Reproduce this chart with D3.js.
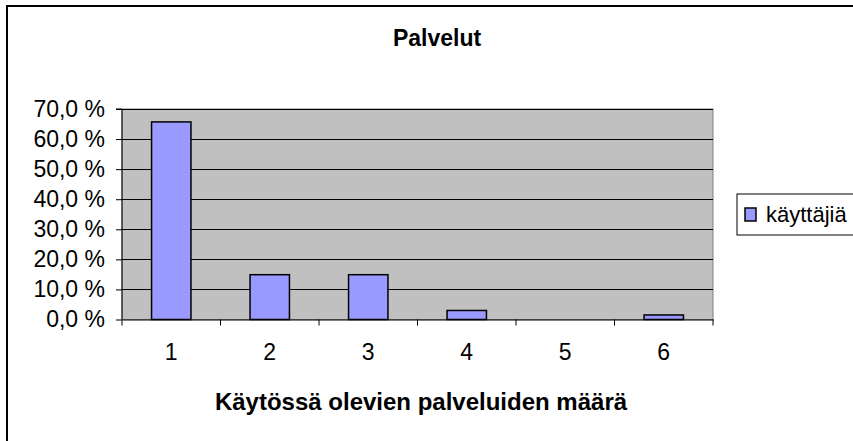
<!DOCTYPE html>
<html><head><meta charset="utf-8">
<script src="https://cdn.jsdelivr.net/npm/d3@7"></script>
<style>body{margin:0;background:#fff}svg{display:block}text{font-family:"Liberation Sans",Arial,sans-serif}</style>
</head><body>
<svg id="c" width="853" height="441"></svg>
<script>
const categories = ["1","2","3","4","5","6"];
const values = [65.7, 14.9, 14.9, 3.0, 0, 1.5];
const yTicks = [0,10,20,30,40,50,60,70];
const seriesName = "käyttäjiä";
const title = "Palvelut";
const xTitle = "Käytössä olevien palveluiden määrä";

const svg = d3.select("#c");
svg.append("rect").attr("x",7).attr("y",6).attr("width",900).attr("height",500)
  .attr("fill","#fff").attr("stroke","#000").attr("stroke-width",2);

const L=122, R=713, T=109, B=319.5;
const x = d3.scaleBand().domain(categories).range([L,R]).paddingInner(0.6).paddingOuter(0.3);
const xb = d3.scaleBand().domain(categories).range([L,R]);
const y = d3.scaleLinear().domain([0,70]).range([B,T]);

svg.append("rect").attr("x",L).attr("y",T).attr("width",R-L).attr("height",B-T)
  .attr("fill","#C0C0C0").attr("stroke","#808080").attr("stroke-width",1);

svg.append("g").selectAll("line").data(yTicks.slice(1)).join("line")
  .attr("x1",L).attr("x2",R).attr("y1",d=>Math.round(y(d))+0.5).attr("y2",d=>Math.round(y(d))+0.5)
  .attr("stroke","#000").attr("stroke-width",1);

svg.append("g").selectAll("rect").data(values).join("rect")
  .attr("x",(d,i)=>x(categories[i])).attr("width",x.bandwidth())
  .attr("y",d=>y(d)).attr("height",d=>B-y(d))
  .attr("fill","#9999FF").attr("stroke","#000").attr("stroke-width",1.5);

const FF = "Liberation Sans, Arial, sans-serif";
// y axis
const ya = svg.append("g").attr("transform",`translate(${L},0)`)
  .call(d3.axisLeft(y).tickValues(yTicks).tickSize(6).tickPadding(11)
    .tickFormat(d=>d3.format(".1f")(d).replace(".",",")+" %"));
ya.select(".domain").attr("stroke","#000").attr("d",`M-6,${T}H0V${B}`);
ya.selectAll("text").attr("font-size",23).attr("fill","#000").style("font-family",FF);
ya.selectAll("line").attr("stroke","#000");

// x axis
const xa = svg.append("g").attr("transform",`translate(0,${B})`)
  .call(d3.axisBottom(xb).tickSize(0).tickPadding(24));
xa.select(".domain").attr("stroke","#000");
xa.selectAll("text").attr("font-size",23).attr("fill","#000").style("font-family",FF);
const bounds = [...categories.map(c=>xb(c)), R];
svg.append("g").selectAll("line").data(bounds).join("line")
  .attr("x1",d=>d).attr("x2",d=>d).attr("y1",B).attr("y2",B+6).attr("stroke","#000");

svg.append("text").attr("x",437).attr("y",46).attr("text-anchor","middle")
  .attr("font-weight","bold").attr("font-size",23).text(title);
svg.append("text").attr("x",421).attr("y",410).attr("text-anchor","middle")
  .attr("font-weight","bold").attr("font-size",24).text(xTitle);

// legend
svg.append("rect").attr("x",737).attr("y",194).attr("width",140).attr("height",41)
  .attr("fill","#fff").attr("stroke","#000").attr("stroke-width",1);
svg.append("rect").attr("x",745).attr("y",208).attr("width",11).attr("height",13)
  .attr("fill","#9999FF").attr("stroke","#000").attr("stroke-width",1.5);
svg.append("text").attr("x",766).attr("y",222).attr("font-size",22).text(seriesName);
</script>
</body></html>
